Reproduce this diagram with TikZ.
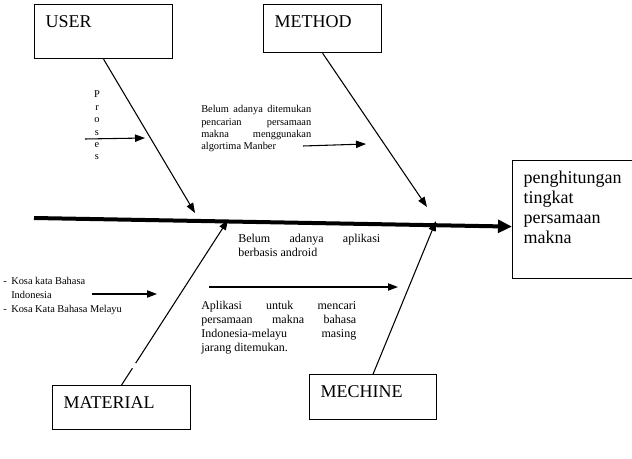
\documentclass[tikz,border=0pt]{standalone}
\usepackage{fontspec}
\setmainfont{Liberation Serif}
\usetikzlibrary{arrows.meta}

\tikzset{
  catbox/.style={draw, line width=0.9pt, anchor=north west, align=left,
    inner xsep=8.25pt, inner ysep=0pt, text height=17.25pt,
    font=\fontsize{13.5}{15}\selectfont},
  bone/.style={line width=0.8pt, -{Triangle[length=7.5pt,width=5.5pt]}},
  spine/.style={line width=3pt, -{Triangle[length=10.5pt,width=9.5pt]}},
  note/.style={anchor=base west, inner sep=0pt, align=justify,
    execute at begin node={\hyphenpenalty=10000\tolerance=10000}},
  smallnote/.style={note, font=\fontsize{7.8}{9.25}\selectfont},
  bignote/.style={note, font=\fontsize{9}{10.3}\selectfont},
}

\begin{document}
\begin{tikzpicture}[x=0.75pt,y=0.75pt,yscale=-1,xscale=1]
  \useasboundingbox (0,0) rectangle (632,459);

  % Category boxes
  \node[catbox, text width=87pt, text depth=23.25pt] (user) at (34,4) {USER};
  \node[catbox, text width=72pt, text depth=18.75pt] (method) at (263,4) {METHOD};
  \node[catbox, text width=87pt, text depth=15.75pt] (material) at (52,385) {MATERIAL};
  \node[catbox, text width=78.75pt, text depth=16.5pt] (mechine) at (309,374) {MECHINE};

  % Effect box
  \node[catbox, text width=74.25pt, text depth=71.25pt] (outcome) at (512,160)
    {penghitungan\\tingkat\\persamaan\\makna};

  % Spine
  \coordinate (spine-start) at (34,218);
  \draw[spine] (spine-start) -- ([yshift=5.25pt]outcome.west);

  % Bones
  \coordinate (user-tip) at (195,213);
  \coordinate (method-tip) at (427,207);
  \coordinate (material-tip) at (228,220);
  \coordinate (mechine-tip) at (436,221);
  \draw[bone] (user.south) -- (user-tip);
  \draw[bone] (method.south) -- (method-tip);
  \draw[bone, dash pattern=on 15pt off 4.5pt on 300pt] (material.north) -- (material-tip);
  \draw[bone] (mechine.north) -- (mechine-tip);

  % Text Node (base = last line)
  \node[smallnote, align=center, anchor=base, font=\fontsize{7.8}{9.3}\selectfont] (proses) at (97,160)
    {P\\r\\o\\s\\e\\s};
  % Text Node
  \node[smallnote, text width=82.5pt] (manber) at (201,113)
    {Belum adanya ditemukan\linebreak pencarian persamaan\linebreak makna menggunakan\linebreak algortima Manber};
  % Text Node (base = last line)
  \node[smallnote, align=left, font=\fontsize{7.8}{10.5}\selectfont] (kosa) at (3,313)
    {\makebox[6pt][l]{-}Kosa kata Bahasa\\\hspace*{6pt}Indonesia\\\makebox[6pt][l]{-}Kosa Kata Bahasa Melayu};
  % Text Node
  \node[bignote, text width=106.5pt] (android) at (238,243)
    {Belum adanya aplikasi\linebreak berbasis android};
  % Text Node
  \node[bignote, text width=116.25pt] (jarang) at (201,310)
    {Aplikasi untuk mencari\linebreak persamaan makna bahasa\linebreak Indonesia-melayu masing\linebreak jarang ditemukan.};

  % Small arrows
  \coordinate (proses-from) at (85,139);
  \coordinate (proses-to) at (145,138);
  \coordinate (manber-from) at (303,146);
  \coordinate (manber-to) at (366,144);
  \coordinate (kosa-from) at (92,294);
  \coordinate (kosa-to) at (157,294);
  \coordinate (android-from) at (209,287);
  \coordinate (android-to) at (398,287);
  \draw[bone] (proses-from) -- (proses-to);
  \draw[bone] (manber-from) -- (manber-to);
  \draw[bone] (kosa-from) -- (kosa-to);
  \draw[bone] (android-from) -- (android-to);
\end{tikzpicture}
\end{document}
